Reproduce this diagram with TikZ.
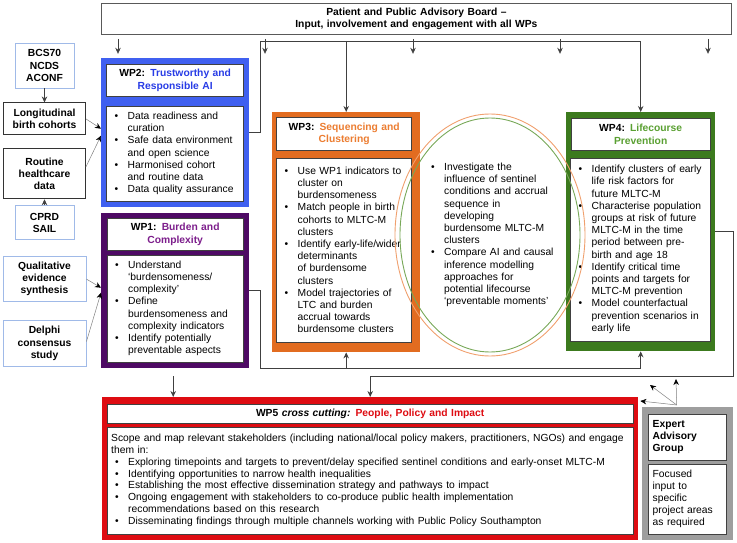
\documentclass[tikz,border=0pt]{standalone}
\usepackage{fontspec}
\setmainfont{Liberation Sans}
\usetikzlibrary{positioning, arrows.meta, calc}

\definecolor{wpblue}{RGB}{64,96,240}
\definecolor{wpbluetxt}{RGB}{40,60,230}
\definecolor{wppurple}{RGB}{78,10,100}
\definecolor{wppurpletxt}{RGB}{125,30,140}
\definecolor{wporange}{RGB}{226,108,32}
\definecolor{wporangetxt}{RGB}{236,125,49}
\definecolor{wpgreen}{RGB}{60,122,30}
\definecolor{wpgreentxt}{RGB}{90,160,50}
\definecolor{wpred}{RGB}{222,12,18}
\definecolor{expgray}{RGB}{158,158,158}
\definecolor{srcblue}{RGB}{160,186,232}
\definecolor{ovorange}{RGB}{240,160,110}
\definecolor{ovgreen}{RGB}{120,168,88}

\newcommand{\fs}{\fontsize{10.3}{12.2}\selectfont}
\newcommand{\bt}{\makebox[17pt][l]{\hspace{4pt}\textbullet}}
\newcommand{\ind}{\hspace*{17pt}}

\begin{document}
\begin{tikzpicture}[x=1pt, y=-1pt, node distance=10pt]
                \tikzstyle{frame} = [anchor=north west, inner sep=0pt, draw=none]
                \tikzstyle{titlebox} = [draw=black!75, fill=white, line width=0.6pt, inner xsep=4pt, inner ysep=1pt, align=center, font=\fs\bfseries]
                \tikzstyle{bodybox} = [draw=black!75, fill=white, line width=0.6pt, inner xsep=4pt, inner ysep=1pt, align=left, font=\fs]
                \tikzstyle{src} = [draw=srcblue, line width=0.9pt, inner sep=1pt, align=center, font=\fs\bfseries]
                \tikzstyle{srcdark} = [src, draw=black!80]
                \tikzstyle{link} = [draw=black!75, line width=0.9pt]
                \tikzstyle{arr} = [link, -{Stealth[length=6pt, width=5.5pt]}]
                \tikzstyle{feed} = [draw=black!50, line width=0.5pt, -{Stealth[length=6pt, width=5.5pt, color=black]}]

                \useasboundingbox (0,0) rectangle (737,543);

                % Advisory board
                \node[titlebox, draw=black!65, line width=0.8pt, text width=622pt, minimum height=31pt, anchor=north west] (board) at (101,3) {Patient and Public Advisory Board --\\Input, involvement and engagement with all WPs};
                \foreach \dx in {17,164,312,459,607}
                    \draw[arr, line width=0.7pt] ([xshift=\dx pt, yshift=-4pt]board.south west) -- ++(0,15);

                % Left column (sources)
                \node[src, minimum width=59pt, minimum height=45pt] (bcs) at (44.5,65.5) {BCS70\\NCDS\\ACONF};
                \node[srcdark, minimum width=82pt, minimum height=32pt, below=14pt of bcs] (lbc) {Longitudinal\\birth cohorts};
                \node[srcdark, minimum width=82pt, minimum height=50pt, below=13pt of lbc] (rhd) {Routine\\healthcare\\data};
                \node[src, minimum width=59pt, minimum height=34pt, below=6pt of rhd] (cprd) {CPRD\\SAIL};
                \node[src, minimum width=83pt, minimum height=45pt, below=16pt of cprd] (qes) {Qualitative\\evidence\\synthesis};
                \node[src, minimum width=83pt, minimum height=46pt, below=18pt of qes] (dcs) {Delphi\\consensus\\study};

                % WP2
                \node[frame, fill=wpblue, minimum width=148pt, minimum height=149pt] (wp2) at (101,58) {};
                \node[titlebox, text width=129pt, minimum height=32pt, below=6pt of wp2.north] (wp2t) {WP2: \textcolor{wpbluetxt}{Trustworthy and}\\\textcolor{wpbluetxt}{Responsible AI}};
                \node[bodybox, text width=129pt, minimum height=95pt, below=9pt of wp2t] (wp2b) {\bt Data readiness and\\\ind curation\\\bt Safe data environment\\\ind and open science\\\bt Harmonised cohort\\\ind and routine data\\\bt Data quality assurance};

                % WP1
                \node[frame, fill=wppurple, minimum width=148pt, minimum height=155pt] (wp1) at (101,213) {};
                \node[titlebox, text width=128pt, minimum height=32pt, below=5pt of wp1.north] (wp1t) {WP1: \textcolor{wppurpletxt}{Burden and}\\\textcolor{wppurpletxt}{Complexity}};
                \node[bodybox, text width=128pt, minimum height=107pt, below=4pt of wp1t] (wp1b) {\bt Understand\\\ind `burdensomeness/\\\ind complexity'\\\bt Define\\\ind burdensomeness and\\\ind complexity indicators\\\bt Identify potentially\\\ind preventable aspects};

                % WP3
                \node[frame, fill=wporange, minimum width=148pt, minimum height=240pt] (wp3) at (272,112) {};
                \node[titlebox, text width=127pt, minimum height=33pt, below=5pt of wp3.north, xshift=-2pt] (wp3t) {WP3: \textcolor{wporangetxt}{Sequencing and}\\\textcolor{wporangetxt}{Clustering}};
                \node[bodybox, text width=127pt, minimum height=184pt, below=7pt of wp3t] (wp3b) {\bt Use WP1 indicators to\\\ind cluster on\\\ind burdensomeness\\\bt Match people in birth\\\ind cohorts to MLTC-M\\\ind clusters\\\bt Identify early-life/wider\\\ind determinants\\\ind of burdensome\\\ind clusters\\\bt Model trajectories of\\\ind LTC and burden\\\ind accrual towards\\\ind burdensome clusters};

                % WP4
                \node[frame, fill=wpgreen, minimum width=149pt, minimum height=239pt] (wp4) at (566,112) {};
                \node[titlebox, text width=131pt, minimum height=32pt, below=6pt of wp4.north] (wp4t) {WP4: \textcolor{wpgreentxt}{Lifecourse}\\\textcolor{wpgreentxt}{Prevention}};
                \node[bodybox, text width=132pt, minimum height=183pt, below=7pt of wp4t] (wp4b) {\bt Identify clusters of early\\\ind life risk factors for\\\ind future MLTC-M\\\bt Characterise population\\\ind groups at risk of future\\\ind MLTC-M in the time\\\ind period between pre-\\\ind birth and age 18\\\bt Identify critical time\\\ind points and targets for\\\ind MLTC-M prevention\\\bt Model counterfactual\\\ind prevention scenarios in\\\ind early life};

                % WP5
                \node[frame, fill=wpred, minimum width=536pt, minimum height=143pt] (wp5) at (102,397) {};
                \node[titlebox, text width=518pt, minimum height=19pt, below=7pt of wp5.north] (wp5t) {WP5 \textit{cross cutting:} \textcolor{wpred}{People, Policy and Impact}};
                \node[bodybox, text width=518pt, minimum height=107pt, below=3pt of wp5t, font={\fontsize{10.3}{11.8}\selectfont}] (wp5b) {Scope and map relevant stakeholders (including national/local policy makers, practitioners, NGOs) and engage\\them in:\\\bt Exploring timepoints and targets to prevent/delay specified sentinel conditions and early-onset MLTC-M\\\bt Identifying opportunities to narrow health inequalities\\\bt Establishing the most effective dissemination strategy and pathways to impact\\\bt Ongoing engagement with stakeholders to co-produce public health implementation\\\ind recommendations based on this research\\\bt Disseminating findings through multiple channels working with Public Policy Southampton};

                % Expert group
                \node[frame, fill=expgray, minimum width=91pt, minimum height=133pt] (exp) at (642,407) {};
                \node[titlebox, align=left, text width=70pt, minimum height=46pt, below=7pt of exp.north] (expt) {Expert\\Advisory\\Group};
                \node[bodybox, text width=70pt, minimum height=70pt, below=3pt of expt] (expb) {Focused\\input to\\specific\\project areas\\as required};

                % Shared aims between WP3 and WP4
                \coordinate (ovc) at (490,235);
                \node[font=\fs, align=left, text width=132pt, inner sep=0pt, anchor=west] (ovl) at ([xshift=-63pt]ovc) {\bt Investigate the\\\ind influence of sentinel\\\ind conditions and accrual\\\ind sequence in\\\ind developing\\\ind burdensome MLTC-M\\\ind clusters\\\bt Compare AI and causal\\\ind inference modelling\\\ind approaches for\\\ind potential lifecourse\\\ind `preventable moments'};

                % Arrows
                \draw[arr, line width=0.7pt] (bcs) -- (lbc);
                \draw[arr, line width=0.7pt] (cprd) -- (rhd);
                \draw[feed] (lbc.east) -- ([yshift=4pt]wp2.west);
                \draw[feed] ([yshift=7pt]rhd.east) -- ([yshift=-3pt]wp2.west);
                \draw[feed] (qes.east) -- ([yshift=3pt]wp1.west);
                \draw[feed] ([yshift=2pt]dcs.east) -- ([yshift=-2pt]wp1.west);

                \coordinate (jT) at (260,41);
                \coordinate (jB) at (260,368);
                \coordinate (jR) at (733,376);
                \draw[arr] (wp2.east) -| (jT) -| (wp4.north);
                \draw[arr] (wp3.north |- jT) -- (wp3.north);
                \draw[arr] (wp1.east) -| (jB) -| (wp4.south);
                \draw[arr] (wp3.south |- jB) -- (wp3.south);
                \draw[arr] (wp4.east) -| (jR) -| (wp5.north);
                \coordinate (w1d) at ([xshift=-2pt, yshift=-8pt]wp1.south);
                \draw[arr, line width=0.7pt] (w1d) -- (w1d |- wp5.north);

                \coordinate (eo) at ([xshift=-11pt, yshift=2pt]exp.north);
                \coordinate (eu) at (676,379);
                \coordinate (el) at (650,385);
                \draw[feed] (eo) -- (eu);
                \draw[feed] (eo) -- (el);
                \draw[feed] (eo) -- ([xshift=2pt, yshift=-4pt]wp5.north east);

                \draw[ovorange, line width=0.9pt] (ovc) ellipse [x radius=95, y radius=121];
                \draw[ovgreen, line width=0.9pt] (ovc) ellipse [x radius=90, y radius=117];
\end{tikzpicture}
\end{document}
